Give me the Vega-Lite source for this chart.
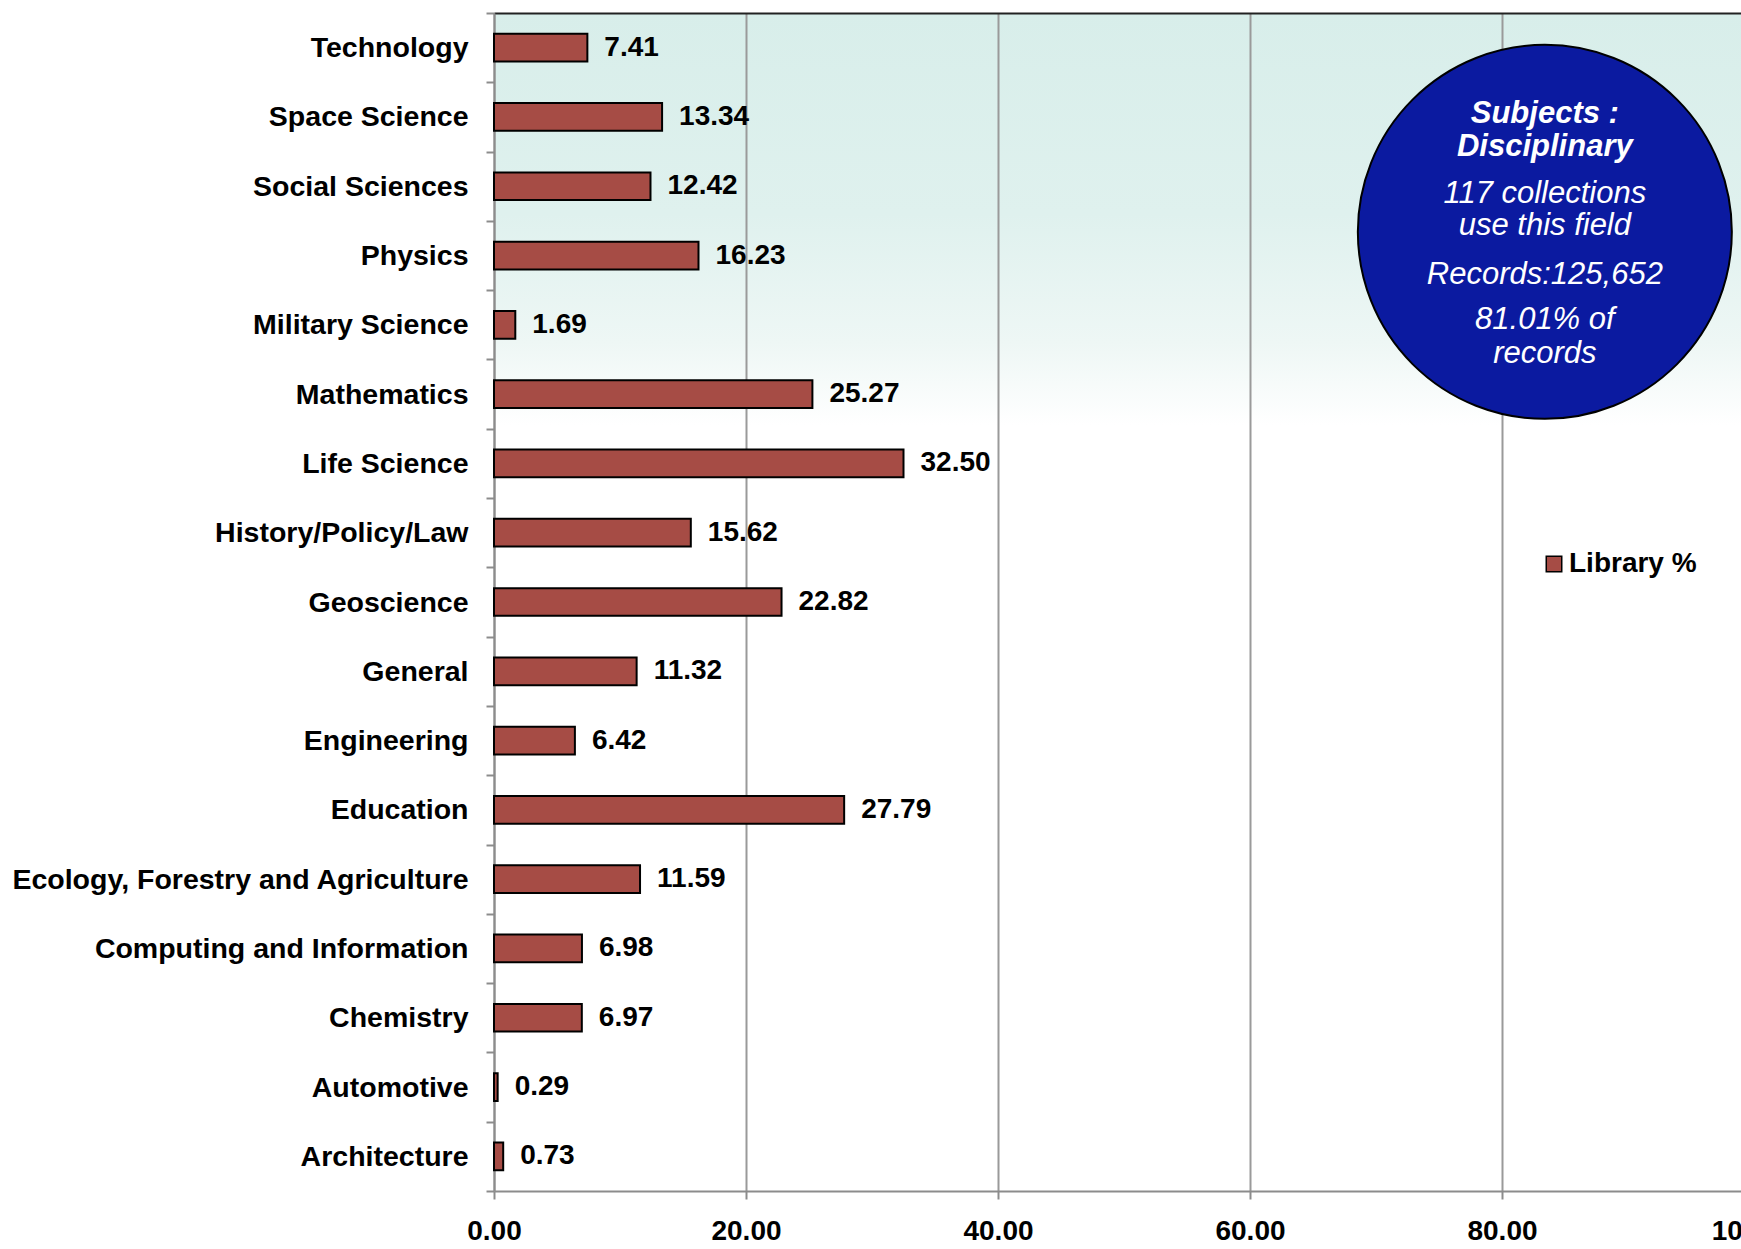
{
  "$schema": "https://vega.github.io/schema/vega-lite/v6.json",
  "width": 1247,
  "height": 1178,
  "autosize": {"type": "none"},
  "padding": {"left": 494, "top": 13, "right": 0, "bottom": 58},
  "background": "white",
  "config": {
    "font": "Liberation Sans",
    "view": {
      "stroke": null,
      "fill": {
        "gradient": "linear", "x1": 0, "y1": 0, "x2": 0, "y2": 1,
        "stops": [
          {"offset": 0, "color": "#d8eeea"},
          {"offset": 0.17, "color": "#dff1ee"},
          {"offset": 0.28, "color": "#eef7f5"},
          {"offset": 0.35, "color": "#ffffff"},
          {"offset": 1, "color": "#ffffff"}
        ]
      }
    },
    "legend": {
      "orient": "none", "legendX": 1046, "legendY": 537, "padding": 0,
      "symbolType": "square", "symbolSize": 240, "symbolStrokeColor": "black", "symbolStrokeWidth": 1.5,
      "labelFontSize": 28, "labelFontWeight": "bold", "labelColor": "black", "labelOffset": 1,
      "labelFont": "Liberation Sans"
    }
  },
  "datasets": {
    "subjects": [
      {"subject": "Technology", "pct": 7.41},
      {"subject": "Space Science", "pct": 13.34},
      {"subject": "Social Sciences", "pct": 12.42},
      {"subject": "Physics", "pct": 16.23},
      {"subject": "Military Science", "pct": 1.69},
      {"subject": "Mathematics", "pct": 25.27},
      {"subject": "Life Science", "pct": 32.50},
      {"subject": "History/Policy/Law", "pct": 15.62},
      {"subject": "Geoscience", "pct": 22.82},
      {"subject": "General", "pct": 11.32},
      {"subject": "Engineering", "pct": 6.42},
      {"subject": "Education", "pct": 27.79},
      {"subject": "Ecology, Forestry and Agriculture", "pct": 11.59},
      {"subject": "Computing and Information", "pct": 6.98},
      {"subject": "Chemistry", "pct": 6.97},
      {"subject": "Automotive", "pct": 0.29},
      {"subject": "Architecture", "pct": 0.73}
    ],
    "badge": [{"x": 83.4, "y": 0.1858}],
    "badgeTitle": [
      {"line": "Subjects :", "x": 83.4, "y": 0.0933},
      {"line": "Disciplinary", "x": 83.4, "y": 0.1213}
    ],
    "badgeBody": [
      {"line": "117 collections", "x": 83.4, "y": 0.1612},
      {"line": "use this field", "x": 83.4, "y": 0.1883},
      {"line": "Records:125,652", "x": 83.4, "y": 0.2299},
      {"line": "81.01% of", "x": 83.4, "y": 0.2680},
      {"line": "records", "x": 83.4, "y": 0.2969}
    ]
  },
  "layer": [
    {
      "data": {"name": "subjects"},
      "layer": [
        {
          "mark": {"type": "bar", "stroke": "black", "strokeWidth": 2, "height": {"band": 0.4}},
          "encoding": {
            "y": {
              "field": "subject", "type": "nominal", "sort": null,
              "scale": {"paddingInner": 0, "paddingOuter": 0},
              "axis": {
                "title": null, "domainColor": "#8c8c8c", "domainWidth": 2,
                "tickColor": "#8c8c8c", "tickWidth": 2, "tickSize": 8, "tickBand": "extent",
                "labelFontSize": 28.5, "labelFontWeight": "bold", "labelColor": "black",
                "labelPadding": 18, "labelLimit": 700, "labelFont": "Liberation Sans"
              }
            },
            "x": {
              "field": "pct", "type": "quantitative",
              "scale": {"domain": [0, 100], "range": [0, 1260], "nice": false},
              "axis": {
                "title": null, "values": [0, 20, 40, 60, 80, 100], "format": ".2f",
                "grid": true, "gridColor": "#9a9a9a", "gridWidth": 2,
                "domainColor": "#8c8c8c", "domainWidth": 2,
                "tickColor": "#8c8c8c", "tickWidth": 2, "tickSize": 8,
                "labelFontSize": 28, "labelFontWeight": "bold", "labelColor": "black",
                "labelPadding": 18, "labelFlush": false, "labelOverlap": false,
                "labelFont": "Liberation Sans"
              }
            },
            "color": {
              "datum": "Library %",
              "scale": {"range": ["#a64c45"]},
              "legend": {"title": null}
            }
          }
        },
        {
          "mark": {"type": "text", "align": "left", "baseline": "middle", "dx": 17,
                   "fontSize": 28, "fontWeight": "bold", "color": "black", "font": "Liberation Sans"},
          "encoding": {
            "y": {"field": "subject", "type": "nominal", "sort": null},
            "x": {"field": "pct", "type": "quantitative"},
            "text": {"field": "pct", "type": "quantitative", "format": ".2f"}
          }
        }
      ]
    },
    {
      "layer": [
        {
          "data": {"name": "badge"},
          "mark": {"type": "point", "shape": "circle", "filled": true, "size": 139876,
                   "fill": "#0b1aa0", "stroke": "black", "strokeWidth": 2, "opacity": 1},
          "encoding": {
            "x": {"field": "x", "type": "quantitative",
                  "scale": {"domain": [0, 100], "range": [0, 1260], "nice": false},
                  "axis": {"orient": "top", "title": null, "labels": false, "ticks": false, "grid": false,
                           "domainColor": "#222222", "domainWidth": 2}},
            "y": {"field": "y", "type": "quantitative",
                  "scale": {"domain": [0, 1], "reverse": true, "nice": false}, "axis": null}
          }
        },
        {
          "data": {"name": "badgeTitle"},
          "mark": {"type": "text", "align": "center", "baseline": "alphabetic", "color": "white",
                   "fontSize": 31, "fontWeight": "bold", "fontStyle": "italic", "font": "Liberation Sans"},
          "encoding": {
            "x": {"field": "x", "type": "quantitative"},
            "y": {"field": "y", "type": "quantitative"},
            "text": {"field": "line"}
          }
        },
        {
          "data": {"name": "badgeBody"},
          "mark": {"type": "text", "align": "center", "baseline": "alphabetic", "color": "white",
                   "fontSize": 31, "fontStyle": "italic", "font": "Liberation Sans"},
          "encoding": {
            "x": {"field": "x", "type": "quantitative"},
            "y": {"field": "y", "type": "quantitative"},
            "text": {"field": "line"}
          }
        }
      ]
    }
  ],
  "resolve": {
    "scale": {"x": "independent", "y": "independent"},
    "axis": {"x": "independent", "y": "independent"}
  }
}
